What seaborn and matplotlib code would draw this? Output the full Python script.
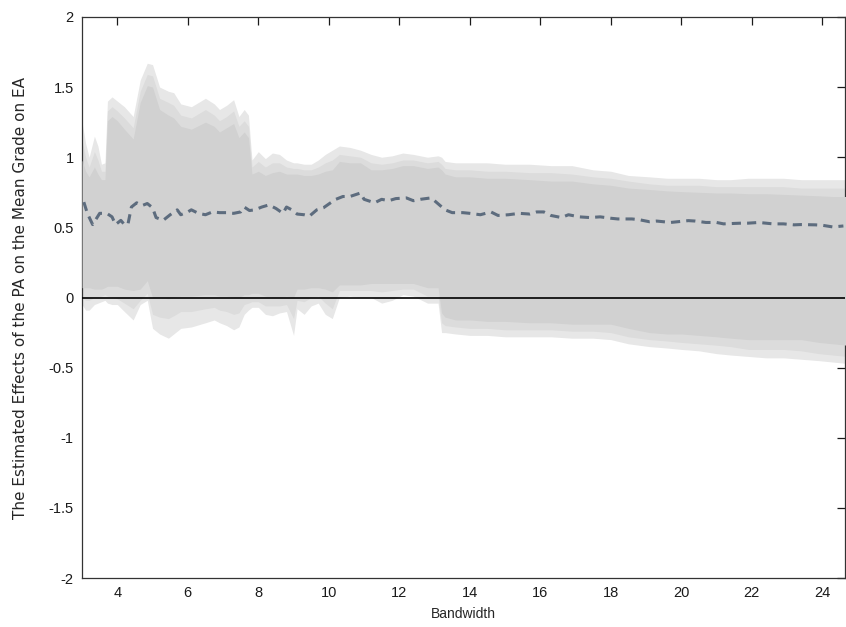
import numpy as np
import pandas as pd
import matplotlib
matplotlib.use("Agg")
import matplotlib.pyplot as plt
import seaborn as sns
from matplotlib.ticker import FuncFormatter

# Point estimate of the PA effect across bandwidths
est_x = [3.05, 3.15, 3.3, 3.5, 3.7, 3.85, 3.95, 4.1, 4.2, 4.3, 4.4, 4.55, 4.7, 4.85,
         5.0, 5.1, 5.3, 5.5, 5.7, 5.8, 6.0, 6.1, 6.3, 6.5, 6.7, 6.9, 7.1, 7.3, 7.5,
         7.6, 7.75, 7.9, 8.1, 8.3, 8.5, 8.7, 8.8, 8.95, 9.1, 9.3, 9.45, 9.66, 9.85,
         10.05, 10.2, 10.4, 10.6, 10.9, 11.0, 11.3, 11.5, 11.7, 11.9, 12.2, 12.4,
         12.6, 12.9, 13.0, 13.3, 13.5, 13.8, 14.0, 14.3, 14.6, 14.8, 15.1, 15.4,
         15.7, 15.9, 16.1, 16.3, 16.6, 16.8, 17.1, 17.4, 17.7, 18.0, 18.2, 18.6,
         18.8, 19.1, 19.3, 19.7, 20.2, 20.4, 20.7, 21.0, 21.2, 21.4, 21.7, 21.9,
         22.2, 22.6, 22.9, 23.2, 23.4, 23.8, 24.0, 24.3, 24.6]
est_y = [0.68, 0.60, 0.52, 0.60, 0.60, 0.575, 0.52, 0.55, 0.52, 0.52, 0.645, 0.675,
         0.655, 0.67, 0.64, 0.57, 0.55, 0.59, 0.625, 0.59, 0.61, 0.625, 0.60, 0.59,
         0.61, 0.605, 0.605, 0.60, 0.61, 0.645, 0.62, 0.625, 0.645, 0.66, 0.635,
         0.60, 0.645, 0.625, 0.595, 0.59, 0.58, 0.625, 0.64, 0.675, 0.70, 0.72,
         0.72, 0.745, 0.70, 0.675, 0.70, 0.69, 0.705, 0.71, 0.69, 0.70, 0.71, 0.69,
         0.625, 0.605, 0.605, 0.60, 0.59, 0.61, 0.585, 0.59, 0.60, 0.595, 0.61,
         0.61, 0.585, 0.57, 0.59, 0.575, 0.57, 0.575, 0.565, 0.56, 0.56, 0.555,
         0.54, 0.545, 0.535, 0.548, 0.545, 0.535, 0.535, 0.525, 0.527, 0.53, 0.53,
         0.535, 0.525, 0.525, 0.518, 0.52, 0.518, 0.515, 0.503, 0.51]

# Confidence bounds (90%, 95%, 99%)
band_x = [3.0, 3.1, 3.2, 3.35, 3.45, 3.55, 3.65, 3.72, 3.85, 4.0, 4.2, 4.45, 4.65,
          4.85, 5.0, 5.2, 5.45, 5.6, 5.8, 6.1, 6.5, 6.75, 6.9, 7.1, 7.3, 7.45, 7.6,
          7.72, 7.82, 8.0, 8.2, 8.4, 8.6, 8.8, 9.0, 9.1, 9.3, 9.5, 9.7, 9.9, 10.1,
          10.3, 10.6, 10.9, 11.2, 11.5, 11.8, 12.1, 12.4, 12.8, 13.1, 13.2, 13.3,
          13.6, 14.0, 14.5, 15.0, 15.7, 16.3, 16.9, 17.5, 18.0, 18.5, 19.1, 19.6,
          20.0, 20.5, 21.0, 21.4, 21.9, 22.4, 22.9, 23.4, 23.9, 24.3, 24.7]
upper_99 = [1.25, 1.10, 1.00, 1.15, 1.08, 0.95, 0.96, 1.40, 1.43, 1.40, 1.36, 1.29,
            1.55, 1.67, 1.66, 1.50, 1.47, 1.46, 1.38, 1.36, 1.42, 1.38, 1.34, 1.37,
            1.41, 1.29, 1.34, 1.30, 0.98, 1.04, 0.99, 1.03, 1.02, 0.98, 0.96, 0.96,
            0.95, 0.95, 0.98, 1.02, 1.05, 1.08, 1.07, 1.05, 1.02, 1.00, 1.01, 1.03,
            1.02, 1.00, 1.01, 1.00, 0.97, 0.96, 0.96, 0.96, 0.95, 0.95, 0.94, 0.94,
            0.91, 0.90, 0.87, 0.86, 0.85, 0.85, 0.85, 0.84, 0.84, 0.85, 0.85, 0.85,
            0.84, 0.84, 0.84, 0.84]
upper_95 = [1.12, 1.00, 0.93, 1.04, 0.98, 0.90, 0.90, 1.33, 1.36, 1.33, 1.28, 1.21,
            1.47, 1.59, 1.58, 1.42, 1.39, 1.37, 1.30, 1.28, 1.34, 1.30, 1.26, 1.29,
            1.33, 1.22, 1.26, 1.22, 0.93, 0.97, 0.93, 0.96, 0.96, 0.93, 0.92, 0.92,
            0.91, 0.91, 0.93, 0.96, 0.98, 1.02, 1.01, 1.00, 0.96, 0.95, 0.96, 0.98,
            0.98, 0.96, 0.97, 0.95, 0.92, 0.91, 0.91, 0.90, 0.90, 0.89, 0.89, 0.88,
            0.86, 0.85, 0.83, 0.81, 0.80, 0.80, 0.80, 0.79, 0.79, 0.79, 0.79, 0.79,
            0.78, 0.78, 0.78, 0.78]
upper_90 = [0.98, 0.90, 0.86, 0.93, 0.88, 0.84, 0.84, 1.26, 1.29, 1.26, 1.20, 1.13,
            1.39, 1.51, 1.50, 1.34, 1.30, 1.28, 1.22, 1.20, 1.25, 1.22, 1.18, 1.21,
            1.24, 1.14, 1.18, 1.14, 0.88, 0.90, 0.87, 0.89, 0.90, 0.88, 0.88, 0.88,
            0.87, 0.87, 0.88, 0.90, 0.91, 0.97, 0.96, 0.96, 0.91, 0.91, 0.92, 0.94,
            0.94, 0.92, 0.93, 0.91, 0.88, 0.86, 0.86, 0.85, 0.85, 0.84, 0.83, 0.83,
            0.81, 0.80, 0.78, 0.77, 0.76, 0.755, 0.75, 0.745, 0.745, 0.74, 0.74,
            0.735, 0.73, 0.725, 0.72, 0.72]
lower_90 = [0.07, 0.07, 0.07, 0.06, 0.06, 0.06, 0.07, 0.08, 0.08, 0.08, 0.06, 0.05,
            0.06, 0.12, 0.00, 0.00, -0.01, 0.00, 0.01, 0.01, 0.02, 0.02, 0.01, 0.01,
            0.00, 0.00, 0.02, 0.02, 0.03, 0.03, 0.01, 0.00, 0.00, 0.01, 0.00, 0.06,
            0.06, 0.07, 0.07, 0.06, 0.04, 0.09, 0.09, 0.09, 0.10, 0.10, 0.10, 0.10,
            0.10, 0.07, 0.07, -0.11, -0.14, -0.16, -0.16, -0.17, -0.17, -0.18, -0.18,
            -0.19, -0.19, -0.19, -0.22, -0.25, -0.26, -0.26, -0.27, -0.28, -0.29,
            -0.30, -0.30, -0.30, -0.30, -0.32, -0.33, -0.34]
lower_95 = [0.00, -0.02, -0.02, 0.00, 0.00, 0.01, 0.02, 0.01, 0.00, -0.01, -0.04,
            -0.08, -0.02, 0.03, -0.12, -0.14, -0.15, -0.13, -0.10, -0.10, -0.08,
            -0.07, -0.09, -0.10, -0.12, -0.11, -0.05, -0.04, -0.03, -0.03, -0.06,
            -0.06, -0.06, -0.05, -0.15, -0.02, -0.03, 0.00, 0.01, -0.04, -0.08, 0.05,
            0.05, 0.05, 0.05, 0.04, 0.05, 0.06, 0.06, 0.01, 0.01, -0.18, -0.20, -0.21,
            -0.22, -0.22, -0.23, -0.23, -0.23, -0.24, -0.24, -0.25, -0.28, -0.30,
            -0.31, -0.32, -0.33, -0.34, -0.35, -0.37, -0.37, -0.37, -0.38, -0.40,
            -0.41, -0.42]
lower_99 = [-0.05, -0.09, -0.09, -0.05, -0.04, -0.03, -0.02, -0.04, -0.05, -0.05,
            -0.10, -0.16, -0.05, -0.02, -0.22, -0.26, -0.29, -0.26, -0.22, -0.21,
            -0.18, -0.16, -0.18, -0.20, -0.23, -0.21, -0.12, -0.09, -0.07, -0.07,
            -0.12, -0.13, -0.11, -0.10, -0.27, -0.08, -0.12, -0.06, -0.04, -0.12,
            -0.15, 0.00, 0.01, 0.00, 0.00, -0.04, -0.02, 0.02, 0.01, -0.04, -0.04,
            -0.25, -0.25, -0.26, -0.27, -0.27, -0.28, -0.28, -0.28, -0.29, -0.29,
            -0.30, -0.33, -0.35, -0.36, -0.37, -0.38, -0.40, -0.41, -0.42, -0.43,
            -0.43, -0.44, -0.45, -0.46, -0.47]

x_ticks = [4, 6, 8, 10, 12, 14, 16, 18, 20, 22, 24]
y_ticks = [-2, -1.5, -1, -0.5, 0, 0.5, 1, 1.5, 2]

sns.set_style("white")
plt.rcParams["font.family"] = ["Liberation Sans", "DejaVu Sans"]

fig = plt.figure(figsize=(8.46, 6.27), dpi=100)
ax = fig.add_axes([0.097, 0.078, 0.902, 0.895])

band_colors = {"99": "#e7e7e7", "95": "#dcdcdc", "90": "#d1d1d1"}
ax.fill_between(band_x, lower_99, upper_99, color=band_colors["99"], lw=0, zorder=1)
ax.fill_between(band_x, lower_95, upper_95, color=band_colors["95"], lw=0, zorder=2)
ax.fill_between(band_x, lower_90, upper_90, color=band_colors["90"], lw=0, zorder=3)

ax.axhline(0, color="black", lw=1.2, zorder=4)

est_df = pd.DataFrame({"Bandwidth": est_x, "Effect": est_y})
sns.lineplot(data=est_df, x="Bandwidth", y="Effect", ax=ax, color="#5d6c7e",
             lw=2.2, zorder=5)
ax.lines[-1].set_dashes((3, 2))

ax.set_xlim(3.0, 24.65)
ax.set_ylim(-2, 2)
ax.set_xticks(x_ticks)
ax.set_yticks(y_ticks)
ax.yaxis.set_major_formatter(FuncFormatter(lambda v, p: f"{v:g}"))
ax.tick_params(direction="in", length=6, width=0.9, top=True, right=True,
               labelsize=10.5, colors="#1a1a1a", pad=6)
for s in ax.spines.values():
    s.set_visible(True)
    s.set_color("#333333")
    s.set_linewidth(0.9)

ax.set_xlabel("Bandwidth", fontsize=10, labelpad=5)
ax.set_ylabel("The Estimated Effects of the PA on the Mean Grade on EA",
              fontsize=11, family=["DejaVu Sans"], labelpad=15)

fig.savefig("out.png", dpi=100)
